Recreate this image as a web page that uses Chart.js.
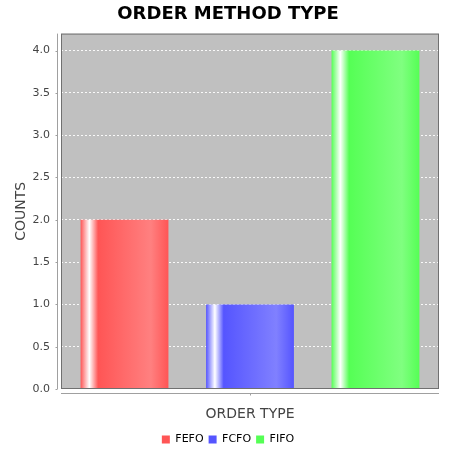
<!DOCTYPE html>
<html><head><meta charset="utf-8">
<script src="https://cdn.jsdelivr.net/npm/chart.js@4"></script>
<style>html,body{margin:0;padding:0;background:#fff}#wrap{width:450px;height:450px}</style>
</head><body><div id="wrap"><canvas id="c" width="450" height="450"></canvas></div>
<script>
const categories = [''];
const seriesNames = ['FEFO', 'FCFO', 'FIFO'];
const fefoValues = [2];
const fcfoValues = [1];
const fifoValues = [4];
const seriesColors = ['#FF5555', '#5555FF', '#55FF55'];
const seriesLightColors = ['#FF8080', '#8080FF', '#80FF80'];
const yTickValues = [0, 0.5, 1, 1.5, 2, 2.5, 3, 3.5, 4];

const FONT = "'DejaVu Sans', sans-serif";

const plotDecor = {
  id: 'plotDecor',
  beforeDraw(chart) {
    const {ctx, chartArea: a} = chart;
    ctx.save();
    ctx.fillStyle = '#C0C0C0';
    ctx.fillRect(a.left, a.top, a.width, a.height);
    ctx.restore();
  },
  beforeDatasetsDraw(chart) {
    const ctx = chart.ctx;
    chart.data.datasets.forEach((ds, i) => {
      const meta = chart.getDatasetMeta(i);
      meta.data.forEach(el => {
        if (!isFinite(el.x) || !isFinite(el.width)) return;
        const left = el.x - el.width / 2, w = el.width;
        const c = seriesColors[i], c1 = seriesLightColors[i];
        const g = ctx.createLinearGradient(left, 0, left + w, 0);
        g.addColorStop(0, c);
        g.addColorStop(0.1, '#ffffff');
        g.addColorStop(0.2, c);
        g.addColorStop(0.8, c1);
        g.addColorStop(1, c);
        el.options.backgroundColor = g;
      });
    });
  },
  afterDatasetsDraw(chart) {
    const {ctx, chartArea: a, scales} = chart;
    ctx.save();
    ctx.strokeStyle = '#707070';
    ctx.lineWidth = 1;
    ctx.strokeRect(a.left + 0.5, a.top + 0.5, a.width - 1, a.height - 1);
    ctx.strokeStyle = '#A0A0A0';
    ctx.beginPath();
    const ax = Math.round(a.left - 4) + 0.5;
    ctx.moveTo(ax, a.top); ctx.lineTo(ax, a.bottom);
    scales.y.ticks.forEach(t => {
      const y = Math.round(scales.y.getPixelForValue(t.value)) + 0.5;
      ctx.moveTo(ax - 2, y); ctx.lineTo(ax, y);
    });
    const ay = Math.round(a.bottom + 4) + 0.5;
    ctx.moveTo(a.left, ay); ctx.lineTo(a.right, ay);
    const cx = Math.round(scales.x.getPixelForValue(0)) + 0.5;
    ctx.moveTo(cx, ay); ctx.lineTo(cx, ay + 2);
    ctx.stroke();
    ctx.restore();
  }
};

new Chart(document.getElementById('c'), {
  type: 'bar',
  data: {
    labels: categories,
    datasets: [
      {label: seriesNames[0], data: fefoValues, backgroundColor: seriesColors[0]},
      {label: seriesNames[1], data: fcfoValues, backgroundColor: seriesColors[1]},
      {label: seriesNames[2], data: fifoValues, backgroundColor: seriesColors[2]}
    ]
  },
  options: {
    responsive: false,
    animation: false,
    devicePixelRatio: 1,
    layout: {padding: {left: 17, right: 11, top: 0, bottom: -5}},
    datasets: {bar: {categoryPercentage: 0.996, barPercentage: 0.70, borderWidth: 0}},
    plugins: {
      title: {
        display: true, text: 'ORDER METHOD TYPE', color: '#000',
        font: {family: FONT, size: 18, weight: 'bold'},
        padding: {top: 4, bottom: 8}
      },
      legend: {
        position: 'bottom',
        labels: {boxWidth: 8, boxHeight: 8, color: '#000', padding: 5,
          font: {family: FONT, size: 11}}
      },
      tooltip: {enabled: false}
    },
    scales: {
      x: {
        grid: {display: false},
        border: {display: false},
        ticks: {display: false},
        title: {display: true, text: 'ORDER TYPE', color: '#444',
          font: {family: FONT, size: 14}, padding: {top: 0, bottom: 6}},
        afterFit(s) { s.height = 40; }
      },
      y: {
        min: 0, max: 4.2,
        ticks: {stepSize: 0.5, color: '#444', padding: 11,
          font: {family: FONT, size: 11},
          callback: v => Number(v).toFixed(1)},
        afterBuildTicks(s) {
          s.ticks = yTickValues.map(v => ({value: v}));
        },
        grid: {color: 'rgba(255,255,255,0.9)', drawTicks: false, lineWidth: 1},
        border: {display: false, dash: [2, 2]},
        title: {display: true, text: 'COUNTS', color: '#444',
          font: {family: FONT, size: 14}, padding: {top: -4, bottom: 0}},
        afterFit(s) { s.width = 44; }
      }
    }
  },
  plugins: [plotDecor]
});
</script></body></html>
